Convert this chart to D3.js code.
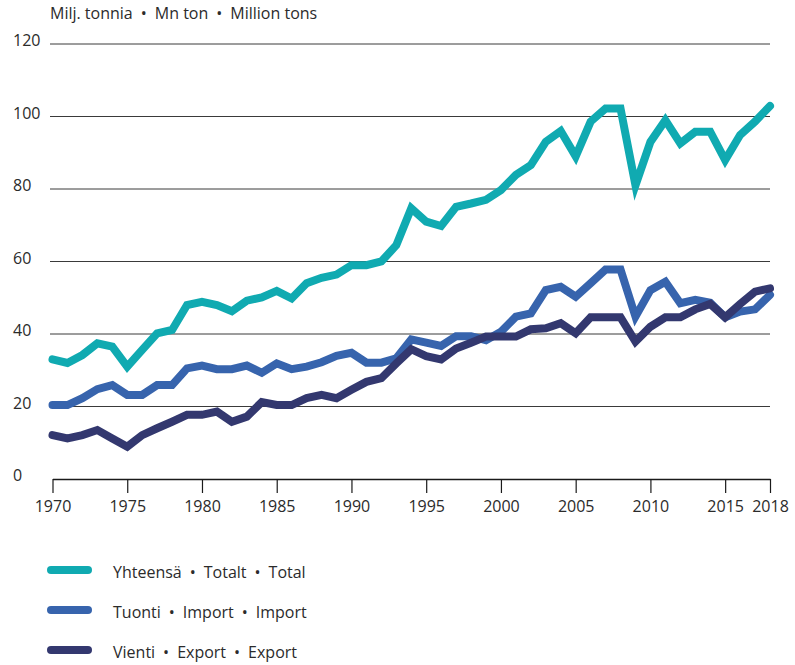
<!DOCTYPE html>
<meta charset="utf-8">
<style>
  body { margin: 0; background: #fff; }
  svg text { font-family: "Open Sans", sans-serif; fill: #2b2b2b; }
  .grid line { stroke: #3a3a3a; stroke-width: 1; }
  .series { fill: none; stroke-width: 8; stroke-linecap: round; stroke-linejoin: miter; }
</style>
<svg width="795" height="665"></svg>
<script src="https://d3js.org/d3.v7.min.js"></script>
<script>
  // Million tons, 1970-2018
  var years = d3.range(1970, 2019);

  var total = [33, 32, 34.2, 37.4, 36.5, 31, 35.6, 40.2, 41.1, 48, 48.9, 48, 46.3, 49.2, 50.1, 51.9, 49.8,
    54, 55.5, 56.4, 59, 59, 60, 64.5, 74.7, 71, 69.8, 75.1, 76, 77, 79.7, 83.9, 86.6, 93, 96,
    89, 98.6, 102.2, 102.2, 81, 93, 99, 92.6, 95.8, 95.8, 88, 94.9, 98.6, 102.9];

  var imports = [20.4, 20.4, 22.3, 24.8, 25.9, 23.2, 23.2, 25.9, 25.9, 30.5, 31.3, 30.3, 30.3, 31.3, 29.3, 31.9, 30.3,
    31, 32.2, 34, 34.8, 32.1, 32.1, 33.3, 38.5, 37.6, 36.7, 39.4, 39.4, 38.3, 40.6, 44.8, 45.7, 52.1, 53,
    50.3, 54, 57.8, 57.8, 44.8, 52.1, 54.4, 48.5, 49.4, 48.6, 44.6, 46.2, 46.8, 50.8];

  var exports = [12.1, 11.2, 12.1, 13.5, 11.2, 8.9, 12.1, 14, 15.8, 17.7, 17.7, 18.6, 15.8, 17.2, 21.2, 20.4, 20.4,
    22.3, 23.2, 22.3, 24.6, 26.8, 27.8, 31.9, 35.8, 33.9, 33, 36, 37.6, 39.3, 39.3, 39.3, 41.3, 41.6, 43,
    40.2, 44.6, 44.6, 44.6, 37.9, 42, 44.6, 44.6, 46.8, 48.3, 44.6, 48.3, 51.7, 52.6];

  var yTicks = [0, 20, 40, 60, 80, 100, 120];
  var xTicks = [1970, 1975, 1980, 1985, 1990, 1995, 2000, 2005, 2010, 2015, 2018];

  var seriesNames = [["Yhteensä", "Totalt", "Total"], ["Tuonti", "Import", "Import"], ["Vienti", "Export", "Export"]];
  var seriesColors = ["#10aab1", "#3764ad", "#33386f"];
  var seriesData = [total, imports, exports];

  var unitLabel = ["Milj. tonnia", "Mn ton", "Million tons"];

  // a bit wider gap around the bullet, like the original
  var sep = "\u2002•\u2002";

  var svg = d3.select("svg");

  var x = d3.scaleLinear().domain([1970, 2018]).range([52.5, 770]);
  var y = d3.scaleLinear().domain([0, 120]).range([479, 44]);

  // unit label
  svg.append("text")
    .attr("x", 50)
    .attr("y", 19)
    .attr("font-size", 16)
    .text(unitLabel.join(sep));

  // horizontal grid lines (not for zero, the axis takes that)
  var grid = svg.append("g").attr("class", "grid");
  grid.selectAll("line")
    .data(yTicks.filter(function (d) { return d > 0; }))
    .enter().append("line")
    .attr("x1", 50)
    .attr("x2", 770)
    .attr("y1", function (d) { return y(d); })
    .attr("y2", function (d) { return y(d); });

  // y labels sit left, roughly level with each line
  svg.append("g")
    .selectAll("text")
    .data(yTicks)
    .enter().append("text")
    .attr("x", 13)
    .attr("y", function (d) { return y(d) + 2; })
    .attr("font-size", 16)
    .text(function (d) { return d; });

  // x axis
  var xAxis = svg.append("g")
    .attr("transform", "translate(0," + y(0) + ")")
    .call(d3.axisBottom(x)
      .tickValues(xTicks)
      .tickFormat(d3.format("d"))
      .tickSize(14)
      .tickPadding(8)
      .tickSizeOuter(0));
  xAxis.select(".domain").attr("stroke", "#1a1a1a").attr("stroke-width", 1.5);
  xAxis.selectAll(".tick line").attr("stroke", "#1a1a1a").attr("stroke-width", 1.2);
  xAxis.selectAll(".tick text")
    .attr("font-family", "Open Sans, sans-serif")
    .attr("font-size", 16)
    .attr("fill", "#2b2b2b");

  // lines
  var line = d3.line()
    .x(function (d, i) { return x(years[i]); })
    .y(function (d) { return y(d); });

  svg.append("g")
    .selectAll("path")
    .data(seriesData)
    .enter().append("path")
    .attr("class", "series")
    .attr("stroke", function (d, i) { return seriesColors[i]; })
    .attr("d", line);

  // legend
  var legend = svg.append("g")
    .selectAll("g")
    .data(seriesNames)
    .enter().append("g")
    .attr("transform", function (d, i) { return "translate(0," + (570 + i * 40) + ")"; });

  legend.append("line")
    .attr("x1", 51)
    .attr("x2", 88)
    .attr("stroke", function (d, i) { return seriesColors[i]; })
    .attr("stroke-width", 8)
    .attr("stroke-linecap", "round");

  legend.append("text")
    .attr("x", 113)
    .attr("y", 8)
    .attr("font-size", 16)
    .text(function (d) { return d.join(sep); });
</script>
